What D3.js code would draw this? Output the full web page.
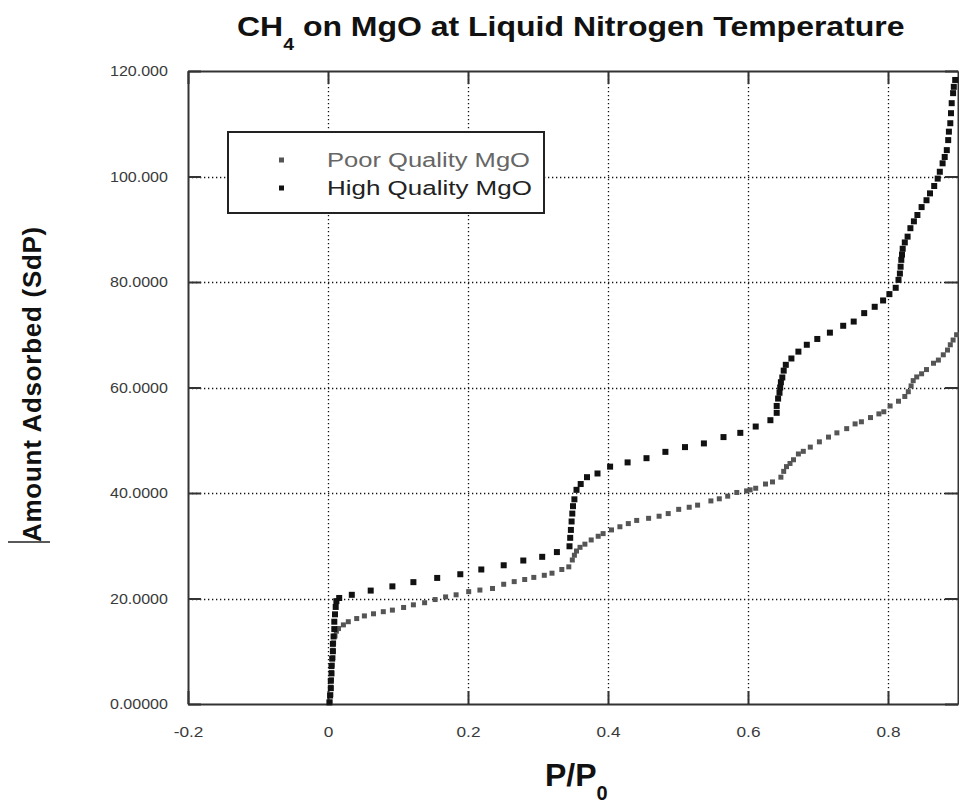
<!DOCTYPE html>
<html>
<head>
<meta charset="utf-8">
<script src="https://cdn.jsdelivr.net/npm/d3@7"></script>
<style>
  html, body { margin: 0; padding: 0; background: #fff; }
  svg { display: block; }
</style>
</head>
<body>
<svg id="chart" width="959" height="807"></svg>
<script>
// Isotherm readings: [P/P0, amount adsorbed]
const poorQuality = [
  [0.003,0.4],[0.004,1.8],[0.004,3.2],[0.005,4.6],[0.005,6.0],[0.006,7.4],[0.007,8.8],[0.007,10.2],
  [0.008,11.6],[0.010,12.9],[0.012,13.8],[0.015,14.3],[0.022,15.0],[0.029,15.6],[0.041,16.2],[0.052,16.7],
  [0.065,17.1],[0.079,17.5],[0.092,17.8],[0.108,18.3],[0.122,18.8],[0.138,19.2],[0.153,19.8],[0.168,20.3],
  [0.183,20.7],[0.201,21.3],[0.217,21.6],[0.235,21.9],[0.251,22.7],[0.266,23.2],[0.281,23.6],[0.294,24.0],
  [0.309,24.4],[0.320,24.8],[0.334,25.5],[0.344,26.0],[0.349,27.3],[0.352,28.2],[0.355,29.0],[0.360,29.7],
  [0.367,30.3],[0.376,31.1],[0.386,31.8],[0.393,32.3],[0.405,33.0],[0.417,33.6],[0.429,34.2],[0.441,34.8],
  [0.458,35.2],[0.473,35.6],[0.486,36.1],[0.501,36.9],[0.516,37.3],[0.528,37.7],[0.547,38.5],[0.559,38.9],
  [0.571,39.4],[0.584,40.1],[0.598,40.4],[0.603,40.6],[0.611,40.9],[0.625,41.7],[0.635,42.1],[0.647,43.0],
  [0.651,44.1],[0.655,45.0],[0.660,45.6],[0.665,46.3],[0.672,47.4],[0.679,47.9],[0.689,48.7],[0.702,49.7],
  [0.715,50.6],[0.727,51.4],[0.741,52.2],[0.753,53.1],[0.762,53.5],[0.775,54.3],[0.787,55.0],[0.794,55.4],
  [0.803,56.5],[0.815,57.4],[0.824,58.3],[0.829,59.2],[0.833,60.3],[0.836,61.3],[0.841,62.0],[0.848,62.6],
  [0.855,63.4],[0.865,64.6],[0.872,65.2],[0.879,66.2],[0.885,67.1],[0.889,68.1],[0.893,69.0],[0.898,70.0]
];

const highQuality = [
  [0.002,0.3],[0.003,1.6],[0.004,3.0],[0.004,4.4],[0.005,5.8],[0.005,7.2],[0.006,8.6],[0.007,10.0],
  [0.007,11.4],[0.008,12.8],[0.009,14.2],[0.009,15.6],[0.010,17.0],[0.011,18.4],[0.012,19.5],[0.016,20.1],
  [0.034,20.7],[0.061,21.5],[0.092,22.3],[0.122,23.1],[0.156,23.9],[0.189,24.6],[0.219,25.5],[0.251,26.3],
  [0.279,27.2],[0.306,27.9],[0.327,28.8],[0.345,29.9],[0.346,31.5],[0.347,33.0],[0.348,34.6],[0.349,36.1],
  [0.350,37.5],[0.352,38.8],[0.355,40.6],[0.361,41.7],[0.370,43.0],[0.385,43.7],[0.403,45.0],[0.428,45.8],
  [0.455,46.6],[0.482,47.8],[0.510,48.7],[0.537,49.4],[0.565,50.6],[0.589,51.4],[0.611,52.6],[0.632,53.8],
  [0.641,55.2],[0.641,56.5],[0.643,57.9],[0.645,59.0],[0.646,60.0],[0.647,61.0],[0.649,61.9],[0.651,63.2],
  [0.654,64.3],[0.662,65.5],[0.672,66.8],[0.684,68.1],[0.699,69.2],[0.717,70.4],[0.736,71.7],[0.751,72.5],
  [0.766,74.1],[0.781,75.3],[0.793,76.5],[0.802,77.7],[0.811,78.9],[0.815,80.4],[0.817,81.6],[0.818,82.9],
  [0.819,84.2],[0.820,85.2],[0.821,86.3],[0.824,87.5],[0.828,88.6],[0.832,90.2],[0.837,91.5],[0.842,92.7],
  [0.848,94.2],[0.855,95.5],[0.860,96.8],[0.866,98.2],[0.871,99.6],[0.874,100.9],[0.878,102.5],[0.881,103.7],
  [0.884,105.0],[0.886,106.9],[0.887,108.5],[0.889,110.1],[0.890,112.0],[0.891,113.9],[0.893,115.8],[0.894,117.0],
  [0.896,118.3]
];

const xTicks = [-0.2, 0, 0.2, 0.4, 0.6, 0.8];
const xTickLabels = ["-0.2", "0", "0.2", "0.4", "0.6", "0.8"];
const yTicks = [0, 20, 40, 60, 80, 100, 120];
const yTickLabels = ["0.00000", "20.0000", "40.0000", "60.0000", "80.0000", "100.000", "120.000"];
const seriesNames = ["Poor Quality MgO", "High Quality MgO"];
const seriesColors = ["#555555", "#111111"];

const FONT = "'Liberation Sans', Arial, sans-serif";
const svg = d3.select("#chart");
const plotLeft = 188, plotRight = 958, plotTop = 71, plotBottom = 704;

const x = d3.scaleLinear().domain([-0.2, 0.9]).range([plotLeft, plotRight]);
const y = d3.scaleLinear().domain([0, 120]).range([plotBottom, plotTop]);

// widen a start-anchored text horizontally so it covers the given width
function stretchTo(sel, width, ax) {
  const len = sel.node().getComputedTextLength();
  const s = width / len;
  const prev = sel.attr("transform") || "";
  sel.attr("transform", `${prev} translate(${ax},0) scale(${s},1) translate(${-ax},0)`);
}
// spread letters of a text so it covers the given width
function spreadTo(sel, width) {
  const node = sel.node();
  const len = node.getComputedTextLength();
  sel.style("letter-spacing", ((width - len) / node.textContent.length) + "px");
}

// dotted grid
const grid = svg.append("g").attr("stroke", "#111").attr("stroke-width", 1.3)
  .attr("stroke-dasharray", "1.3,2.7");
grid.selectAll("line.gx").data(xTicks.filter(t => t > -0.2)).join("line")
  .attr("class", "gx")
  .attr("x1", d => Math.round(x(d)) + 0.5).attr("x2", d => Math.round(x(d)) + 0.5)
  .attr("y1", plotTop).attr("y2", plotBottom);
grid.selectAll("line.gy").data(yTicks.filter(t => t > 0 && t < 120)).join("line")
  .attr("class", "gy")
  .attr("y1", d => Math.round(y(d)) + 0.5).attr("y2", d => Math.round(y(d)) + 0.5)
  .attr("x1", plotLeft).attr("x2", plotRight);

// axes with inward ticks on all four sides
const fmtX = d => xTickLabels[xTicks.indexOf(d)];
const fmtY = d => yTickLabels[yTicks.indexOf(d)];

function styleAxis(g) {
  g.select(".domain").attr("stroke", "#333").attr("stroke-width", 2);
  g.selectAll(".tick line").attr("stroke", "#333").attr("stroke-width", 2);
  g.selectAll(".tick text").attr("fill", "#3a3a3a")
    .style("font-family", FONT).style("font-size", "15px");
}

const yAxisG = svg.append("g").attr("transform", `translate(${plotLeft},0)`)
  .call(d3.axisLeft(y).tickValues(yTicks).tickFormat(fmtY).tickSize(-13).tickPadding(20).tickSizeOuter(0))
  .call(styleAxis);
yAxisG.selectAll(".tick text").each(function () {
  const t = d3.select(this);
  t.attr("text-anchor", "start").attr("x", -78);
  stretchTo(t, 58, -78);
});
svg.append("g").attr("transform", `translate(${plotRight},0)`)
  .call(d3.axisRight(y).tickValues(yTicks).tickFormat("").tickSize(-13).tickSizeOuter(0))
  .call(styleAxis);
const xAxisG = svg.append("g").attr("transform", `translate(0,${plotBottom})`)
  .call(d3.axisBottom(x).tickValues(xTicks).tickFormat(fmtX).tickSize(-13).tickPadding(22).tickSizeOuter(0))
  .call(styleAxis);
xAxisG.selectAll(".tick text").attr("transform", "scale(1.15,1)");
svg.append("g").attr("transform", `translate(0,${plotTop})`)
  .call(d3.axisTop(x).tickValues(xTicks).tickFormat("").tickSize(-13).tickSizeOuter(0))
  .call(styleAxis);

// data markers
const series = [poorQuality, highQuality];
const sizes = [5, 6];
series.forEach((pts, i) => {
  svg.append("g").selectAll("rect").data(pts).join("rect")
    .attr("x", d => x(d[0]) - sizes[i] / 2)
    .attr("y", d => y(d[1]) - sizes[i] / 2)
    .attr("width", sizes[i]).attr("height", sizes[i])
    .attr("fill", seriesColors[i]);
});

// legend
const legend = svg.append("g");
legend.append("rect").attr("x", 228).attr("y", 132).attr("width", 316).attr("height", 81)
  .attr("fill", "#fff").attr("stroke", "#222").attr("stroke-width", 2);
const legendWidths = [203, 205];
seriesNames.forEach((name, i) => {
  const cy = 160 + i * 28;
  legend.append("rect").attr("x", 279).attr("y", cy - 2.5).attr("width", 5).attr("height", 5)
    .attr("fill", seriesColors[i]);
  const t = legend.append("text").attr("x", 327).attr("y", cy + 7)
    .attr("fill", i === 0 ? "#666" : "#222")
    .style("font-family", FONT).style("font-size", "19.5px")
    .text(name);
  stretchTo(t, legendWidths[i], 327);
});

// title
const title = svg.append("text").attr("x", 237).attr("y", 36)
  .style("font-family", FONT).style("font-size", "28px")
  .style("font-weight", "bold").attr("fill", "#111");
title.append("tspan").text("CH");
title.append("tspan").attr("dy", 14).style("font-size", "17px").text("4");
title.append("tspan").attr("dy", -14).text(" on MgO at Liquid Nitrogen Temperature");
stretchTo(title, 668, 237);

// x axis title
const xt = svg.append("text").attr("x", 545).attr("y", 786)
  .style("font-family", FONT).style("font-size", "32px")
  .style("font-weight", "bold").attr("fill", "#111");
xt.append("tspan").text("P/P");
xt.append("tspan").attr("dy", 14).style("font-size", "20px").text("0");

// y axis title
const yt = svg.append("text").attr("transform", "translate(41,542) rotate(-90)")
  .style("font-family", FONT).style("font-size", "26px")
  .style("font-weight", "bold").attr("fill", "#111")
  .text("Amount Adsorbed (SdP)");
spreadTo(yt, 316);
svg.append("line").attr("x1", 8).attr("x2", 50).attr("y1", 542).attr("y2", 542)
  .attr("stroke", "#222").attr("stroke-width", 1.5);
</script>
</body>
</html>
